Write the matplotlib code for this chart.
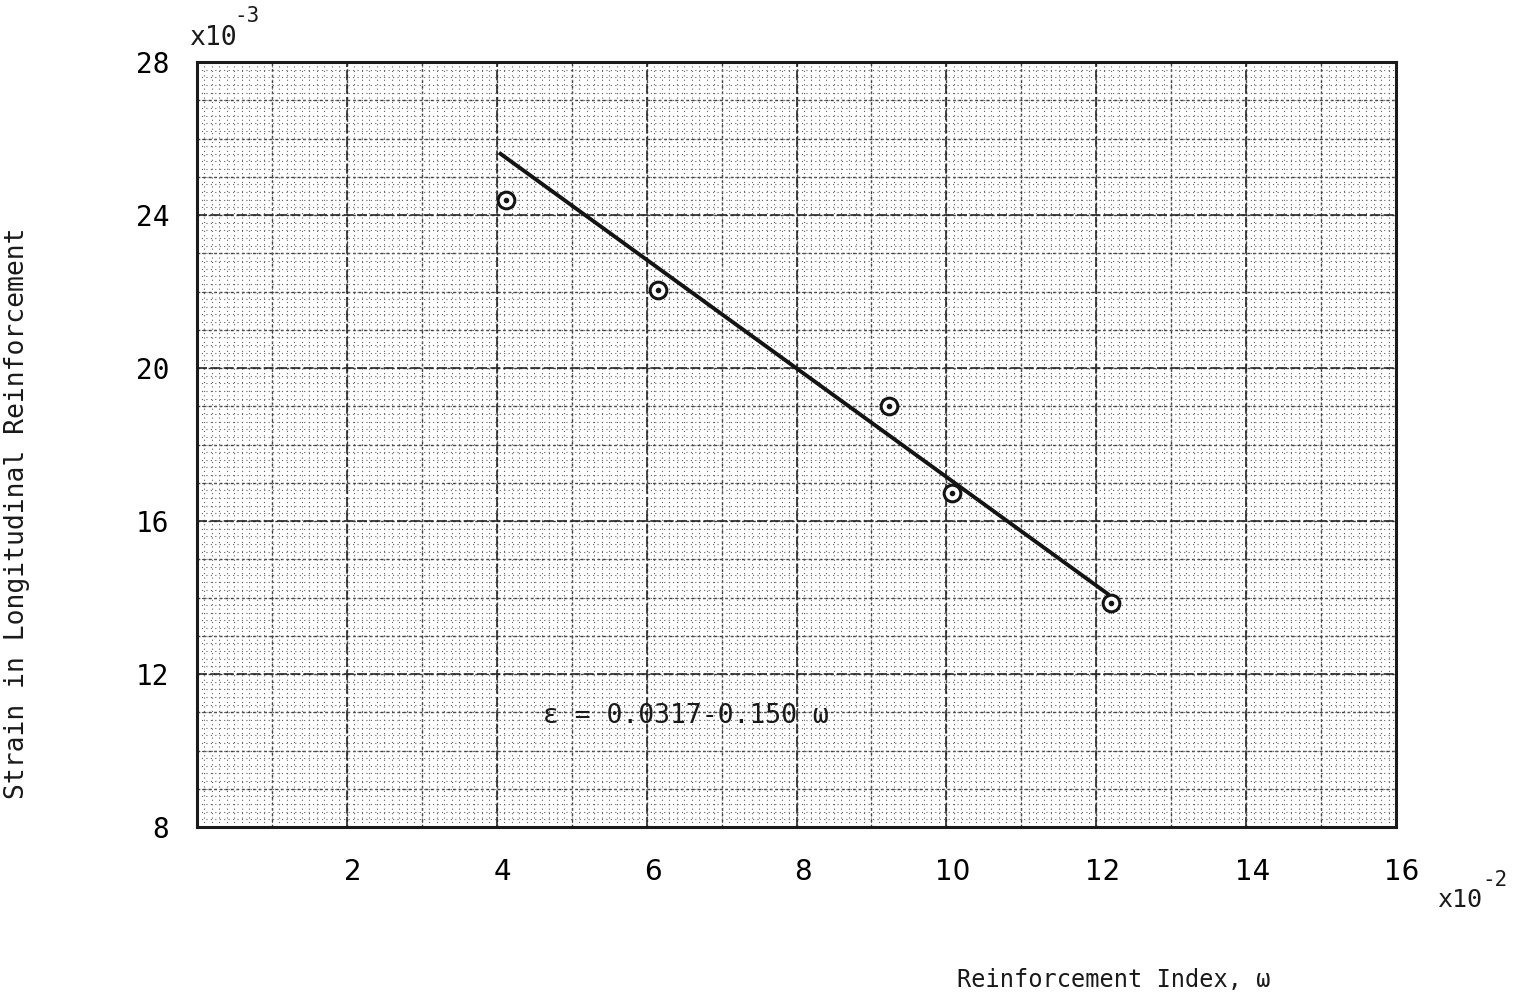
import numpy as np
import matplotlib
matplotlib.use("Agg")
import matplotlib.pyplot as plt
from matplotlib.transforms import ScaledTranslation

# measured points (omega in 1e-2, strain in 1e-3)
omega = [4.13, 6.15, 9.24, 10.08, 12.2]
strain = [24.4, 22.05, 19.0, 16.72, 13.85]

# regression line as drawn on the sheet
fit_omega = [4.05, 12.15]
fit_strain = [25.6, 14.1]

x_ticks = [2, 4, 6, 8, 10, 12, 14, 16]
y_ticks = [8, 12, 16, 20, 24, 28]

MONO = "DejaVu Sans Mono"

fig = plt.figure(figsize=(15.17, 9.97), dpi=100)
ax = fig.add_axes([197 / 1517, 1 - 827 / 997, 1199 / 1517, 765 / 997])

ax.set_xlim(0, 16)
ax.set_ylim(8, 28)

# graph paper
ax.set_xticks(x_ticks)
ax.set_yticks(y_ticks)
ax.set_xticks(np.arange(0, 16.01, 0.1), minor=True)
ax.set_yticks(np.arange(8, 28.01, 0.2), minor=True)
ax.grid(which="minor", color="0.38", lw=0.8, ls=(0, (1, 3)))
ax.grid(which="major", color="0.15", lw=1.2, ls=(0, (6, 2)))
for gx in np.arange(1, 16, 1):
    ax.axvline(gx, color="0.25", lw=1.0, ls=(0, (2, 2)), zorder=0.5)
for gy in np.arange(9, 28, 1):
    ax.axhline(gy, color="0.25", lw=1.0, ls=(0, (2, 2)), zorder=0.5)

ax.tick_params(which="both", length=0)
ax.tick_params(axis="y", pad=20, labelsize=20)
ax.tick_params(axis="x", pad=22, labelsize=20)
for lab in ax.get_yticklabels():
    lab.set_fontfamily(MONO)
shift = ScaledTranslation(6 / 100, 0, fig.dpi_scale_trans)
for lab in ax.get_xticklabels():
    lab.set_fontfamily("DejaVu Sans")
    lab.set_transform(lab.get_transform() + shift)

for sp in ax.spines.values():
    sp.set_linewidth(2.2)
    sp.set_color("0.1")

# fit line and data
ax.plot(fit_omega, fit_strain, color="0.08", lw=2.8, zorder=3)
ax.plot(omega, strain, ls="none", marker="o", ms=12, mfc="white",
        mec="0.08", mew=2.2, zorder=4)
ax.plot(omega, strain, ls="none", marker="o", ms=3, color="0.08", zorder=5)

ax.text(4.62, 10.9, "ε = 0.0317-0.150 ω", fontsize=19, family=MONO,
        color="0.1", va="center", ha="left", zorder=6)

ax.set_ylabel("Strain in Longitudinal Reinforcement", fontsize=19,
              family=MONO, color="0.1")
ax.yaxis.set_label_coords(-0.139, 0.41)
ax.set_xlabel("Reinforcement Index, ω", fontsize=17, family=MONO,
              color="0.1", ha="left", va="center")
ax.xaxis.set_label_coords((957 - 197) / 1199, -0.2)

# scale factors
fig.text(189 / 1517, 1 - 45 / 997, "x10", fontsize=19, family=MONO,
         color="0.1", va="baseline")
fig.text(234 / 1517, 1 - 22 / 997, "-3", fontsize=15, family=MONO,
         color="0.1", va="baseline")
fig.text(1437 / 1517, 1 - 907 / 997, "x10", fontsize=18, family=MONO,
         color="0.1", va="baseline")
fig.text(1482 / 1517, 1 - 886 / 997, "-2", fontsize=15, family=MONO,
         color="0.1", va="baseline")

fig.savefig("out.png", dpi=100, facecolor="white")
